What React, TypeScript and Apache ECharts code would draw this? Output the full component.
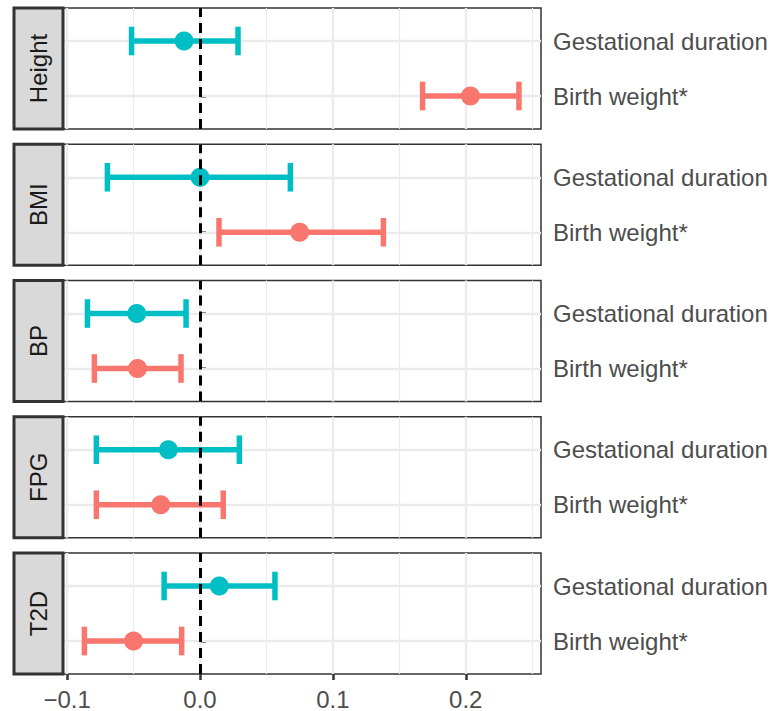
import React, { useEffect, useRef } from "react";
import * as echarts from "echarts";

const traits = ["Height", "BMI", "BP", "FPG", "T2D"];
const outcomes = ["Birth weight*", "Gestational duration"];
// estimates / lower / upper per trait for each outcome
const gestEst = [-0.012, 0.0, -0.0476, -0.0238, 0.0145];
const gestLo = [-0.0515, -0.0697, -0.0847, -0.078, -0.027];
const gestHi = [0.0286, 0.068, -0.0105, 0.0296, 0.0564];
const bwEst = [0.2035, 0.075, -0.047, -0.0296, -0.05];
const bwLo = [0.1675, 0.0143, -0.0795, -0.078, -0.087];
const bwHi = [0.24, 0.138, -0.0143, 0.0175, -0.0138];
const xTicks = [-0.1, 0, 0.1, 0.2];
const xMinor = [-0.05, 0.05, 0.15, 0.25];

const X_MIN = -0.1031;
const X_MAX = 0.2566;
const TEAL = "#00BFC4";
const RED = "#F8766D";
const FONT = "'Liberation Sans', Arial, sans-serif";

export default function App() {
  const ref = useRef<HTMLDivElement>(null);
  useEffect(() => {
    if (!ref.current) return;
    const chart = echarts.init(ref.current, null, { renderer: "svg" });
    const left = 63;
    const right = 771 - 541;
    const top0 = 8;
    const step = 136.25;
    const h = 121;
    const grids: any[] = [];
    const xAxes: any[] = [];
    const yAxes: any[] = [];
    const series: any[] = [];
    const graphics: any[] = [];

    traits.forEach((t, i) => {
      const top = top0 + i * step;
      const last = i === traits.length - 1;
      grids.push({
        left,
        right,
        top,
        height: h,
        show: true,
        borderColor: "#333333",
        borderWidth: 1.5,
        backgroundColor: "#ffffff",
        containLabel: false,
        outerBoundsMode: "none",
      });
      xAxes.push({
        type: "value",
        gridIndex: i,
        min: X_MIN,
        max: X_MAX,
        axisLine: { show: false },
        splitLine: { show: false },
        axisTick: {
          show: last,
          customValues: xTicks,
          length: 6,
          lineStyle: { color: "#333333", width: 2.5 },
        },
        axisLabel: {
          show: last,
          customValues: xTicks,
          margin: 13,
          fontSize: 24,
          fontFamily: FONT,
          color: "#4D4D4D",
          formatter: (v: number) =>
            (v < 0 ? "\u2212" : "") + Math.abs(v).toFixed(1),
        },
      });
      yAxes.push({
        type: "value",
        gridIndex: i,
        position: "right",
        min: 0.4,
        max: 2.6,
        axisLine: { show: false },
        splitLine: { show: false },
        axisTick: {
          show: true,
          customValues: [1, 2],
          length: 6,
          lineStyle: { color: "#333333", width: 2.5 },
        },
        axisLabel: {
          show: true,
          customValues: [1, 2],
          margin: 12,
          fontSize: 24,
          fontFamily: FONT,
          color: "#4D4D4D",
          overflow: "none",
          hideOverlap: false,
          formatter: (v: number) => outcomes[Math.round(v) - 1] || "",
        },
      });

      // gridlines
      series.push({
        type: "line",
        xAxisIndex: i,
        yAxisIndex: i,
        data: [],
        z: 1,
        silent: true,
        markLine: {
          silent: true,
          z: 1,
          symbol: "none",
          label: { show: false },
          animation: false,
          data: [
            ...xMinor
              .filter((v) => v < X_MAX)
              .map((v) => ({ xAxis: v, lineStyle: { color: "#EBEBEB", width: 1.2, type: "solid" } })),
            ...xTicks.map((v) => ({ xAxis: v, lineStyle: { color: "#EBEBEB", width: 2.4, type: "solid" } })),
            ...[1, 2].map((v) => ({ yAxis: v, lineStyle: { color: "#EBEBEB", width: 2.4, type: "solid" } })),
          ],
        },
      });
      // error bars
      const rows = [
        { y: 2, est: gestEst[i], lo: gestLo[i], hi: gestHi[i], color: TEAL },
        { y: 1, est: bwEst[i], lo: bwLo[i], hi: bwHi[i], color: RED },
      ];
      series.push({
        type: "custom",
        xAxisIndex: i,
        yAxisIndex: i,
        z: 3,
        silent: true,
        data: rows.map((r) => [r.est, r.y, r.lo, r.hi]),
        encode: { x: 0, y: 1 },
        renderItem: (params: any, api: any) => {
          const r = rows[params.dataIndex];
          const est = api.value(0);
          const y = api.value(1);
          const lo = api.value(2);
          const hi = api.value(3);
          const pLo = api.coord([lo, y]);
          const pHi = api.coord([hi, y]);
          const pEst = api.coord([est, y]);
          const capTop = api.coord([lo, y + 0.26])[1];
          const capBot = api.coord([lo, y - 0.26])[1];
          const style = { stroke: r.color, lineWidth: 5.5, lineCap: "butt" };
          return {
            type: "group",
            children: [
              { type: "line", shape: { x1: pLo[0], y1: pLo[1], x2: pHi[0], y2: pHi[1] }, style },
              { type: "line", shape: { x1: pLo[0], y1: capTop, x2: pLo[0], y2: capBot }, style },
              { type: "line", shape: { x1: pHi[0], y1: capTop, x2: pHi[0], y2: capBot }, style },
              { type: "circle", shape: { cx: pEst[0], cy: pEst[1], r: 9.5 }, style: { fill: r.color } },
            ],
          };
        },
      });
      // zero line (drawn above the bars)
      series.push({
        type: "line",
        xAxisIndex: i,
        yAxisIndex: i,
        data: [],
        z: 5,
        silent: true,
        markLine: {
          silent: true,
          z: 6,
          symbol: "none",
          label: { show: false },
          animation: false,
          data: [{ xAxis: 0 }],
          lineStyle: { color: "#000000", width: 3, type: [10, 6] },
        },
      });

      // strip
      graphics.push({
        type: "rect",
        shape: { x: 14, y: top, width: 49, height: h },
        style: { fill: "#D9D9D9", stroke: "#333333", lineWidth: 3 },
        z: 10,
      });
      graphics.push({
        type: "text",
        x: 14 + 24.5,
        y: top + h / 2,
        rotation: Math.PI / 2,
        style: {
          text: t,
          fontSize: 24,
          fontFamily: FONT,
          fill: "#1A1A1A",
          align: "center",
          verticalAlign: "middle",
        },
        z: 11,
      });
    });

    chart.setOption({
      animation: false,
      backgroundColor: "#ffffff",
      grid: grids,
      xAxis: xAxes,
      yAxis: yAxes,
      series,
      graphic: graphics,
    });
    return () => chart.dispose();
  }, []);
  return (
    <div
      ref={ref}
      style={{ position: "absolute", left: 0, top: 0, width: 771, height: 711 }}
    />
  );
}
